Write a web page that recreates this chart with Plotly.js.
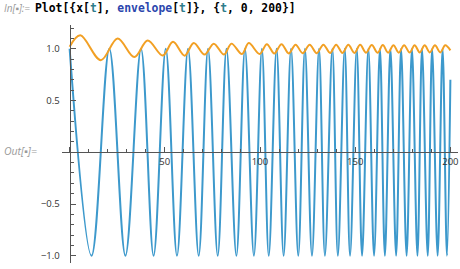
<!DOCTYPE html>
<html>
<head>
<meta charset="utf-8">
<script src="https://cdn.plot.ly/plotly-3.0.1.min.js"></script>
<style>
  html, body { margin: 0; padding: 0; background: #fff; }
  #chart { width: 460px; height: 269px; }
</style>
</head>
<body>
<div id="chart"></div>
<script>
// ---- data ----
// x[t]: times of maxima (value 1) and minima (value -1), plus the final sample
var xPeakT   = [0, 20.85, 37.5, 50.5, 62.2, 72.7, 82.4, 92.1, 101.0, 108.7, 116.3, 123.6, 131.0, 138.0, 144.5, 150.8, 156.9, 163.0, 168.5, 174.1, 179.8, 185.1, 190.4, 195.9];
var xTroughT = [11.5, 29.3, 44.1, 56.4, 67.8, 77.8, 87.6, 96.8, 104.6, 112.4, 120.1, 127.3, 134.1, 140.9, 147.3, 153.6, 159.9, 165.6, 171.5, 177.0, 182.7, 188.1, 193.3, 198.2];
var xPeakV   = 1.0;
var xTroughV = -1.0;
var xEndT    = 200;
var xEndV    = 0.70;

// envelope[t]: alternating maxima / minima
var envT = [0, 5.6, 16.4, 25.2, 34.0, 41.0, 48.9, 54.3, 60.4, 65.2, 70.9, 75.7, 81.1, 85.0, 90.5, 94.1, 99.8, 103.6, 107.5, 111.3, 115.1, 118.7, 122.4, 126.1, 129.8, 133.3, 136.8, 140.0, 143.3, 146.4, 149.6, 152.6, 155.7, 158.7, 161.8, 164.5, 167.3, 170.1, 172.9, 175.7, 178.6, 181.2, 183.9, 186.5, 189.2, 191.9, 194.7, 197.3, 200];
var envV = [1.02, 1.13, 0.89, 1.10, 0.92, 1.08, 0.935, 1.067, 0.934, 1.057, 0.944, 1.05, 0.944, 1.05, 0.95, 1.055, 0.95, 1.045, 0.955, 1.045, 0.955, 1.04, 0.958, 1.04, 0.958, 1.04, 0.96, 1.04, 0.96, 1.038, 0.96, 1.038, 0.962, 1.036, 0.962, 1.036, 0.963, 1.035, 0.963, 1.035, 0.964, 1.035, 0.965, 1.034, 0.965, 1.034, 0.965, 1.034, 0.985];

// tick labels
var xTickVals = [0, 50, 100, 150, 200];
var xTickText = ['', '50', '100', '150', '200'];
var yTickVals = [-1, -0.5, 0, 0.5, 1];
var yTickText = ['\u22121.0', '\u22120.5', '', '0.5', '1.0'];

// ---- build the x[t] sample list from the extrema ----
var pts = [];
xPeakT.forEach(function (t) { pts.push([t, xPeakV]); });
xTroughT.forEach(function (t) { pts.push([t, xTroughV]); });
pts.push([xEndT, xEndV]);
pts.sort(function (a, b) { return a[0] - b[0]; });
var xT = pts.map(function (p) { return p[0]; });
var xV = pts.map(function (p) { return p[1]; });

var xRange = [-4, 204];
var yRange = [-1.07, 1.23];
var axisColor = '#555555';
var tickFont = { family: 'Open Sans, Noto Sans, sans-serif', size: 9.5, color: '#333333' };

var traces = [
  { x: xT, y: xV, type: 'scatter', mode: 'lines',
    line: { color: '#3D99CC', width: 2, shape: 'spline', smoothing: 1 },
    hoverinfo: 'skip' },
  { x: envT, y: envV, type: 'scatter', mode: 'lines',
    line: { color: '#F2A024', width: 2, shape: 'spline', smoothing: 1 },
    hoverinfo: 'skip' }
];

var inputLine =
  '<span style="color:#000">Plot[{x[</span>' +
  '<span style="color:#2E7D8C">t</span>' +
  '<span style="color:#000">], </span>' +
  '<span style="color:#2B46AD">envelope</span>' +
  '<span style="color:#000">[</span>' +
  '<span style="color:#2E7D8C">t</span>' +
  '<span style="color:#000">]}, {</span>' +
  '<span style="color:#2E7D8C">t</span>' +
  '<span style="color:#000">, 0, 200}]</span>';

var layout = {
  width: 460, height: 269,
  margin: { l: 62, r: 2, t: 25, b: 6 },
  paper_bgcolor: '#ffffff', plot_bgcolor: '#ffffff',
  showlegend: false,
  xaxis: {
    range: xRange, anchor: 'free',
    position: (0 - yRange[0]) / (yRange[1] - yRange[0]),
    showgrid: false, zeroline: false,
    showline: true, linecolor: axisColor, linewidth: 1,
    tickmode: 'array', tickvals: xTickVals, ticktext: xTickText,
    ticks: 'inside', ticklen: 5, tickwidth: 1, tickcolor: axisColor,
    minor: { tickmode: 'linear', tick0: 0, dtick: 10, ticks: 'inside', ticklen: 3, tickcolor: axisColor, tickwidth: 1, showgrid: false },
    tickfont: tickFont
  },
  yaxis: {
    range: yRange, anchor: 'free',
    position: (0 - xRange[0]) / (xRange[1] - xRange[0]),
    showgrid: false, zeroline: false,
    showline: true, linecolor: axisColor, linewidth: 1,
    tickmode: 'array', tickvals: yTickVals, ticktext: yTickText,
    ticks: 'inside', ticklen: 5, tickwidth: 1, tickcolor: axisColor,
    ticklabelstandoff: 8,
    minor: { tickmode: 'linear', tick0: 0, dtick: 0.1, ticks: 'inside', ticklen: 3, tickcolor: axisColor, tickwidth: 1, showgrid: false },
    tickfont: tickFont
  },
  annotations: [
    { xref: 'paper', yref: 'paper', x: (2 - 62) / 396, y: (263 - 8) / 238,
      xanchor: 'left', yanchor: 'middle', showarrow: false,
      text: '<i>In[\u25AA]:=</i>',
      font: { family: 'Open Sans, sans-serif', size: 10, color: '#9a9a9a' } },
    { xref: 'paper', yref: 'paper', x: (33 - 62) / 396, y: (263 - 8) / 238,
      xanchor: 'left', yanchor: 'middle', showarrow: false,
      text: '<b>' + inputLine + '</b>',
      font: { family: 'DejaVu Sans Mono, monospace', size: 11.4, color: '#000' } },
    { xref: 'paper', yref: 'paper', x: (2 - 62) / 396, y: (263 - 151) / 238,
      xanchor: 'left', yanchor: 'middle', showarrow: false,
      text: '<i>Out[\u25AA]=</i>',
      font: { family: 'Open Sans, sans-serif', size: 10.5, color: '#9a9a9a' } }
  ]
};

Plotly.newPlot('chart', traces, layout, { staticPlot: true, displayModeBar: false });
</script>
</body>
</html>
